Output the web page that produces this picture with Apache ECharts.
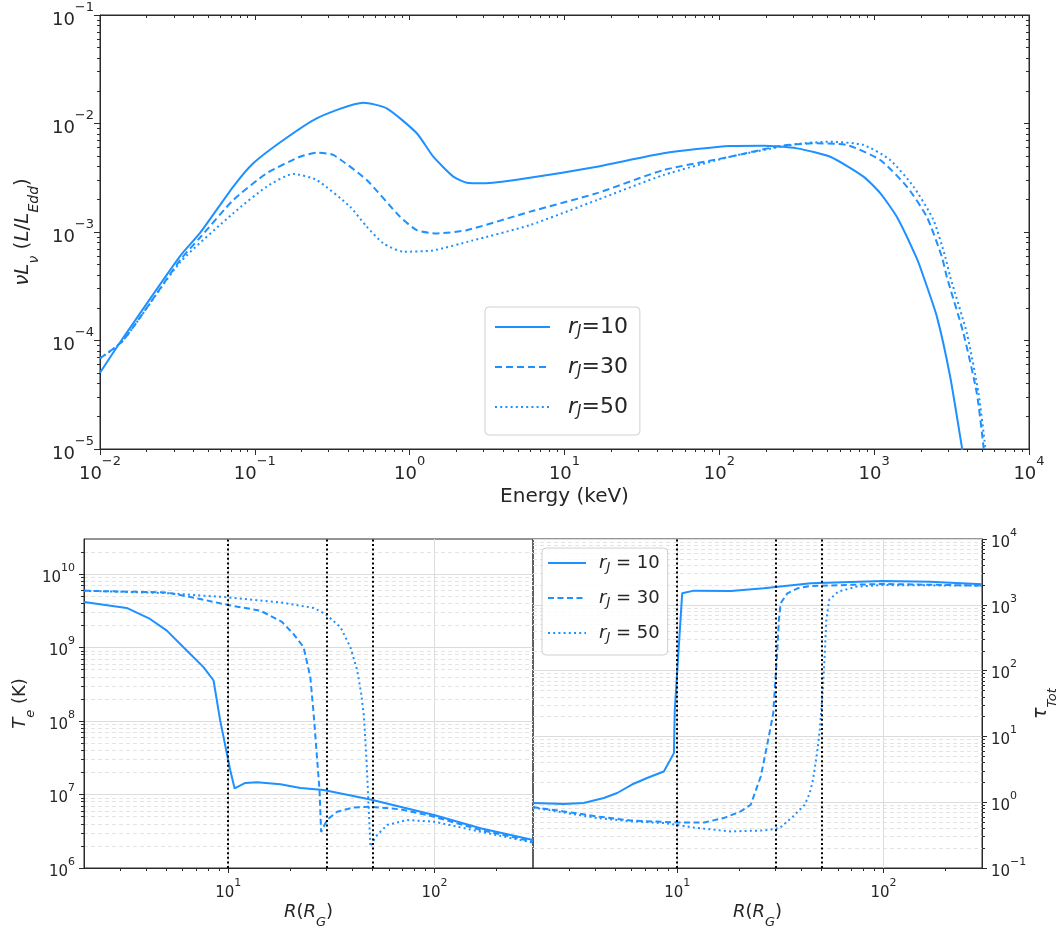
<!DOCTYPE html>
<html><head><meta charset="utf-8">
<script src="https://cdn.jsdelivr.net/npm/echarts@6/dist/echarts.min.js"></script>
<style>html,body{margin:0;padding:0;background:#fff}#c{width:1059px;height:928px}</style>
</head><body><div id="c"></div>
<script>
// ---------------- DATA ----------------
// Top panel: spectral energy distribution, nuL_nu (L/L_Edd) vs Energy (keV)
const energyR10 = [0.01, 0.0136, 0.0329, 0.0443, 0.0726, 0.0977, 0.153, 0.251, 0.502, 0.711, 1.112, 1.422, 1.914, 2.339, 2.992, 5.16, 16.2, 43.6, 117.5, 192.8, 317, 520, 853, 1094, 1400, 1884, 2084, 2541, 3097, 3681, 3890];
const lumR10    = [5.05e-5, 9.8e-5, 6.0e-4, 9.8e-4, 2.62e-3, 4.3e-3, 7.05e-3, 1.117e-2, 1.556e-2, 1.38e-2, 8.13e-3, 4.94e-3, 3.24e-3, 2.85e-3, 2.81e-3, 3.06e-3, 4.0e-3, 5.31e-3, 6.21e-3, 6.25e-3, 5.9e-3, 4.94e-3, 3.24e-3, 2.28e-3, 1.38e-3, 5.71e-4, 3.87e-4, 1.66e-4, 4.63e-5, 1.05e-5, 6.3e-6];
const energyR30 = [0.01, 0.0141, 0.0329, 0.0443, 0.0726, 0.1194, 0.196, 0.251, 0.321, 0.528, 0.867, 1.112, 1.496, 2.339, 6.0, 16.2, 43.6, 117.5, 247, 406, 665, 1094, 1626, 2188, 2735, 2944, 3776, 4603, 5082, 5248];
const lumR30    = [6.85e-5, 1.0e-4, 5.5e-4, 8.9e-4, 1.97e-3, 3.48e-3, 4.94e-3, 5.38e-3, 5.13e-3, 3.01e-3, 1.38e-3, 1.04e-3, 9.7e-4, 1.04e-3, 1.54e-3, 2.28e-3, 3.72e-3, 4.94e-3, 6.21e-3, 6.56e-3, 6.34e-3, 4.61e-3, 2.62e-3, 1.38e-3, 5.92e-4, 3.87e-4, 1.16e-4, 3.26e-5, 1.05e-5, 6.3e-6];
const energyR50 = [0.01, 0.0141, 0.0329, 0.0726, 0.1194, 0.177, 0.251, 0.412, 0.528, 0.676, 0.910, 1.41, 2.51, 6.0, 16.2, 43.6, 117.5, 317, 520, 853, 1268, 1795, 2415, 2877, 3097, 3972, 4721, 5212, 5370];
const lumR50    = [6.85e-5, 1.0e-4, 5.25e-4, 1.49e-3, 2.62e-3, 3.43e-3, 3.01e-3, 1.71e-3, 1.12e-3, 7.87e-4, 6.58e-4, 6.76e-4, 8.3e-4, 1.16e-3, 1.97e-3, 3.35e-3, 4.94e-3, 6.47e-3, 6.79e-3, 6.34e-3, 4.61e-3, 2.62e-3, 1.29e-3, 5.92e-4, 3.87e-4, 1.16e-4, 3.26e-5, 1.05e-5, 6.3e-6];

// Bottom-left: electron temperature T_e (K) vs R (R_G)
const radTeR10 = [2.0, 3.22, 4.18, 5.04, 6.07, 7.59, 8.49, 9.14, 10.23, 10.74, 12.1, 13.8, 17.9, 22.4, 29.0, 48.9, 99.3, 167, 300];
const teR10    = [4.17e9, 3.46e9, 2.45e9, 1.70e9, 1.01e9, 5.41e8, 3.56e8, 1.02e8, 2.14e7, 1.21e7, 1.44e7, 1.47e7, 1.38e7, 1.23e7, 1.15e7, 8.57e6, 5.25e6, 3.47e6, 2.4e6];
const radTeR30 = [2.0, 5.04, 7.31, 10, 14.3, 18.2, 20.7, 23.2, 25.0, 25.9, 27.0, 27.7, 28.2, 30.1, 33.7, 40.6, 48.9, 68.4, 99.3, 167, 300];
const teR30    = [5.93e9, 5.62e9, 4.58e9, 3.79e9, 3.18e9, 2.24e9, 1.53e9, 1.01e9, 3.95e8, 1.32e8, 2.93e7, 1.15e7, 3.09e6, 4.5e6, 5.82e6, 6.68e6, 6.81e6, 6.28e6, 4.99e6, 3.29e6, 2.29e6];
const radTeR50 = [2.0, 5.04, 10, 17.9, 25.9, 29.6, 35.0, 39.1, 42.2, 44.1, 45.4, 46.8, 48.0, 48.9, 51.8, 58.9, 73.6, 99.3, 167, 300];
const teR50    = [5.93e9, 5.5e9, 4.82e9, 4.12e9, 3.46e9, 2.86e9, 1.89e9, 1.01e9, 4.88e8, 2.36e8, 1.2e8, 2.93e7, 6.17e6, 1.95e6, 2.67e6, 3.85e6, 4.5e6, 4.27e6, 3.12e6, 2.21e6];

// Bottom-right: total optical depth tau_Tot vs R (R_G)
const radTauR10 = [2.0, 2.82, 3.52, 4.41, 5.12, 6.15, 7.14, 8.61, 9.64, 9.73, 10.57, 12.05, 18.2, 26.3, 44.4, 99.5, 168, 300];
const tauR10    = [0.97, 0.94, 0.97, 1.16, 1.38, 1.91, 2.33, 2.93, 5.57, 25, 1496, 1641, 1622, 1782, 2123, 2301, 2249, 2051];
const radTauR30 = [2.0, 2.82, 4.09, 5.93, 10, 13.5, 16.8, 20.3, 22.7, 25.4, 27.4, 29.2, 30.5, 31.1, 31.7, 34.2, 38.3, 44.4, 99.5, 300];
const tauR30    = [0.843, 0.724, 0.608, 0.528, 0.492, 0.492, 0.574, 0.724, 0.914, 2.46, 7.91, 22.4, 184, 589, 1057, 1496, 1782, 1932, 2075, 1954];
const radTauR50 = [2.0, 4.09, 5.93, 8.61, 12.5, 18.2, 26.3, 31.4, 36.4, 41.5, 43.9, 45.5, 47.6, 49.1, 50.9, 51.9, 52.8, 54.5, 60.3, 74.0, 99.5, 300];
const tauR50    = [0.83, 0.575, 0.513, 0.482, 0.405, 0.36, 0.372, 0.405, 0.608, 0.914, 1.38, 2.19, 5.57, 12.6, 57.1, 184, 589, 1186, 1585, 1888, 1995, 1954];

// Jet radii marked by vertical dotted lines
const jetRadii = [10, 30, 50];

// Tick values
const topXMajor = [0.01, 0.1, 1, 10, 100, 1000, 10000];
const topYMajor = [1e-5, 1e-4, 1e-3, 1e-2, 1e-1];
const botXMajor = [10, 100];
const teMajor   = [1e6, 1e7, 1e8, 1e9, 1e10];
const tauMajor  = [0.1, 1, 10, 100, 1000, 10000];

// ---------------- STYLE / BUILD ----------------
const FONT = 'DejaVu Sans';
const INK = '#262626';
const AX = '#2a2a2a';
const BLUE = '#1E90FF';

function minorVals(lo, hi) {
  const out = [];
  for (let e = Math.floor(Math.log10(lo)) - 1; e <= Math.ceil(Math.log10(hi)); e++) {
    for (let m = 2; m <= 9; m++) {
      const v = +(m * Math.pow(10, e)).toPrecision(3);
      if (v > lo * 1.0001 && v < hi * 0.9999) out.push(v);
    }
  }
  return out;
}
function fmtPow(v) {
  const e = Math.round(Math.log10(v));
  const es = e < 0 ? '\u2212' + (-e) : '' + e;
  return '{b|10}{s|' + es + '}';
}
const richTop = {
  b: {fontFamily: FONT, fontSize: 18, color: INK, lineHeight: 28, verticalAlign: 'bottom'},
  s: {fontFamily: FONT, fontSize: 13, color: INK, lineHeight: 14, verticalAlign: 'top'}
};
const richBot = {
  b: {fontFamily: FONT, fontSize: 15, color: INK, lineHeight: 23, verticalAlign: 'bottom'},
  s: {fontFamily: FONT, fontSize: 11, color: INK, lineHeight: 12, verticalAlign: 'top'}
};
const nameRich = (fs) => ({
  i: {fontFamily: FONT, fontSize: fs, fontStyle: 'italic', color: INK, lineHeight: fs + 8, verticalAlign: 'top'},
  n: {fontFamily: FONT, fontSize: fs, color: INK, lineHeight: fs + 8, verticalAlign: 'top'},
  s: {fontFamily: FONT, fontSize: Math.round(fs * 0.7), fontStyle: 'italic', color: INK, lineHeight: Math.round(fs * 0.7) + 2, verticalAlign: 'bottom'}
});

function axisBase(grid, min, max, position) {
  return {type: 'log', logBase: 10, gridIndex: grid, min: min, max: max, position: position,
    axisLine: {show: false, lineStyle: {color: AX, width: 1}},
    axisTick: {show: false}, axisLabel: {show: false}, splitLine: {show: false},
    minorTick: {show: false}, minorSplitLine: {show: false}, axisPointer: {show: false}};
}
function tickAxis(grid, min, max, position, vals, len, inside, line) {
  const a = axisBase(grid, min, max, position);
  a.axisLine = {show: !!line, lineStyle: {color: AX, width: 1}};
  a.axisTick = {show: true, inside: inside, length: len, customValues: vals, lineStyle: {color: AX, width: 1}};
  return a;
}

const xAxes = [];
const yAxes = [];
// ---- top panel (grid 0)
let a = tickAxis(0, 0.01, 1e4, 'bottom', topXMajor, 6, false, true);
a.axisLabel = {show: true, margin: 6, customValues: topXMajor, formatter: fmtPow, rich: richTop};
a.name = 'Energy (keV)'; a.nameLocation = 'middle'; a.nameGap = 38;
a.nameTextStyle = {fontFamily: FONT, fontSize: 20, color: INK};
xAxes.push(a);                                                        // 0
xAxes.push(tickAxis(0, 0.01, 1e4, 'bottom', minorVals(0.01, 1e4), 3, false, false)); // 1
xAxes.push(tickAxis(0, 0.01, 1e4, 'top', topXMajor, 5, true, true));  // 2
xAxes.push(tickAxis(0, 0.01, 1e4, 'top', minorVals(0.01, 1e4), 3, true, false)); // 3

a = tickAxis(0, 1e-5, 0.1, 'left', topYMajor, 6, false, true);
a.axisLabel = {show: true, margin: 6, customValues: topYMajor, formatter: fmtPow, rich: richTop};
a.name = '{i|\u03BDL}{s|\u03BD}{n| (}{i|L}{n|/}{i|L}{s|Edd}{n|)}';
a.nameLocation = 'middle'; a.nameGap = 57; a.nameRotate = 90;
a.nameTextStyle = {rich: nameRich(20)};
yAxes.push(a);                                                        // 0
yAxes.push(tickAxis(0, 1e-5, 0.1, 'left', minorVals(1e-5, 0.1), 3, false, false)); // 1
yAxes.push(tickAxis(0, 1e-5, 0.1, 'right', topYMajor, 5, true, true)); // 2
yAxes.push(tickAxis(0, 1e-5, 0.1, 'right', minorVals(1e-5, 0.1), 3, true, false)); // 3

// ---- bottom-left panel (grid 1)
const gridMajor = {show: true, lineStyle: {color: '#dcdcdc', width: 1, type: 'solid'}};
const gridMinor = {show: true, lineStyle: {color: '#e4e4e4', width: 1, type: [4, 3]}};
const rName = '{i|R}{n|(}{i|R}{s|G}{n|)}';

a = tickAxis(1, 2, 300, 'bottom', botXMajor, 5, false, true);
a.axisLabel = {show: true, margin: 10, customValues: botXMajor, formatter: fmtPow, rich: richBot};
a.splitLine = gridMajor;
a.name = rName; a.nameLocation = 'middle'; a.nameGap = 35; a.nameTextStyle = {rich: nameRich(18)};
xAxes.push(a);                                                        // 4
xAxes.push(tickAxis(1, 2, 300, 'bottom', minorVals(2, 300), 3, false, false)); // 5

a = tickAxis(1, 1e6, 3e10, 'left', teMajor, 5, false, true);
a.axisLabel = {show: true, margin: 9, customValues: teMajor, formatter: fmtPow, rich: richBot};
a.splitLine = gridMajor;
a.name = '{i|T}{s|e}{n| (K)}'; a.nameLocation = 'middle'; a.nameGap = 47; a.nameRotate = 90;
a.nameTextStyle = {rich: nameRich(18)};
yAxes.push(a);                                                        // 4
a = tickAxis(1, 1e6, 3e10, 'left', minorVals(1e6, 3e10), 3, false, false);
a.splitLine = gridMinor;
yAxes.push(a);                                                        // 5

// ---- bottom-right panel (grid 2)
a = tickAxis(2, 2, 300, 'bottom', botXMajor, 5, false, true);
a.axisLabel = {show: true, margin: 10, customValues: botXMajor, formatter: fmtPow, rich: richBot};
a.splitLine = gridMajor;
a.name = rName; a.nameLocation = 'middle'; a.nameGap = 35; a.nameTextStyle = {rich: nameRich(18)};
xAxes.push(a);                                                        // 6
xAxes.push(tickAxis(2, 2, 300, 'bottom', minorVals(2, 300), 3, false, false)); // 7

a = tickAxis(2, 0.1, 1e4, 'right', tauMajor, 5, false, true);
a.axisLabel = {show: true, margin: 9, customValues: tauMajor, formatter: fmtPow, rich: richBot};
a.splitLine = gridMajor;
a.name = '{i|\u03C4}{s|Tot}'; a.nameLocation = 'middle'; a.nameGap = 50; a.nameRotate = 90;
a.nameTextStyle = {rich: nameRich(19)};
yAxes.push(a);                                                        // 6
a = tickAxis(2, 0.1, 1e4, 'right', minorVals(0.1, 1e4), 3, false, false);
a.splitLine = gridMinor;
yAxes.push(a);                                                        // 7

function zip(xs, ys) { return xs.map((x, i) => [x, ys[i]]); }
function line(name, xs, ys, xi, yi, dash, smooth, extra) {
  return Object.assign({
    type: 'line', name: name, xAxisIndex: xi, yAxisIndex: yi, data: zip(xs, ys),
    symbol: 'none', showSymbol: false, smooth: smooth, clip: true, z: 3,
    lineStyle: {color: BLUE, width: 2, type: dash}, itemStyle: {color: BLUE},
    emphasis: {disabled: true}
  }, extra || {});
}
const dottedMarks = {
  silent: true, symbol: 'none', label: {show: false}, animation: false,
  lineStyle: {color: '#000', type: [2, 2.6], width: 2},
  data: jetRadii.map(r => ({xAxis: r}))
};
const DASH = [7, 4], DOT = [2, 3.2];
const series = [
  line('rJ=10', energyR10, lumR10, 0, 0, 'solid', 0.2),
  line('rJ=30', energyR30, lumR30, 0, 0, DASH, 0.2),
  line('rJ=50', energyR50, lumR50, 0, 0, DOT, 0.2),
  line('rJ = 10', radTeR10, teR10, 4, 4, 'solid', false, {markLine: dottedMarks}),
  line('rJ = 30', radTeR30, teR30, 4, 4, [6, 3.5], false),
  line('rJ = 50', radTeR50, teR50, 4, 4, DOT, false),
  line('rJ = 10', radTauR10, tauR10, 6, 6, 'solid', false, {markLine: dottedMarks}),
  line('rJ = 30', radTauR30, tauR30, 6, 6, [6, 3.5], false),
  line('rJ = 50', radTauR50, tauR50, 6, 6, DOT, false)
];

function legendFmt(sep) {
  return function (name) {
    const num = name.replace(/[^0-9]/g, '');
    return '{i|r}{s|J}{n|' + sep + '=' + sep + num + '}';
  };
}
const legendRich = (fs, lead) => ({
  i: {fontFamily: FONT, fontSize: fs, fontStyle: 'italic', color: INK, lineHeight: fs + 4, padding: [0, 0, 0, lead]},
  s: {fontFamily: FONT, fontSize: Math.round(fs * 0.7), fontStyle: 'italic', color: INK, verticalAlign: 'bottom', lineHeight: fs + 4, padding: [8, 0, 0, 0]},
  n: {fontFamily: FONT, fontSize: fs, color: INK, lineHeight: fs + 4}
});

const option = {
  animation: false,
  backgroundColor: '#fff',
  grid: [
    {left: 100, top: 15, width: 929, height: 434, show: true, borderColor: AX, borderWidth: 1, backgroundColor: 'transparent', outerBoundsMode: 'none'},
    {left: 84, top: 539, width: 449, height: 329, show: true, borderColor: AX, borderWidth: 1, backgroundColor: 'transparent', outerBoundsMode: 'none'},
    {left: 533, top: 539, width: 449, height: 329, show: true, borderColor: AX, borderWidth: 1, backgroundColor: 'transparent', outerBoundsMode: 'none'}
  ],
  xAxis: xAxes,
  yAxis: yAxes,
  legend: [
    {data: ['rJ=10', 'rJ=30', 'rJ=50'], orient: 'vertical', left: 485, top: 307,
     itemWidth: 55, itemHeight: 14, itemGap: 16, padding: [9, 12, 15, 9],
     itemStyle: {opacity: 0, borderWidth: 0},
     backgroundColor: 'rgba(255,255,255,0.85)', borderColor: '#d0d0d0', borderWidth: 1, borderRadius: 4,
     formatter: legendFmt(''), textStyle: {rich: legendRich(22, 13)}, selectedMode: false},
    {data: ['rJ = 10', 'rJ = 30', 'rJ = 50'], orient: 'vertical', left: 542, top: 548,
     itemWidth: 38, itemHeight: 12, itemGap: 14, padding: [5, 8, 11, 5],
     itemStyle: {opacity: 0, borderWidth: 0},
     backgroundColor: 'rgba(255,255,255,0.85)', borderColor: '#d0d0d0', borderWidth: 1, borderRadius: 4,
     formatter: legendFmt(' '), textStyle: {rich: legendRich(18, 8)}, selectedMode: false}
  ],
  series: series
};
const chart = echarts.init(document.getElementById('c'), null, {renderer: 'canvas'});
chart.setOption(option);
</script>
</body></html>
